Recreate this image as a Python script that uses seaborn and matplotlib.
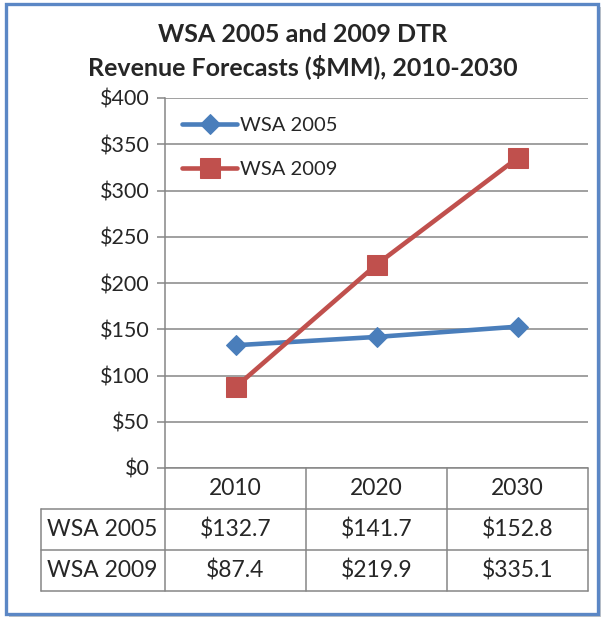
"""
WSA 2005 vs 2009 DTR revenue forecasts, Excel-style line chart with data table.
"""

import pandas as pd
import matplotlib.pyplot as plt
import matplotlib.patches as patches
import seaborn as sns

# data
years = ['2010', '2020', '2030']
wsa_2005 = [132.7, 141.7, 152.8]
wsa_2009 = [87.4, 219.9, 335.1]
series_names = ['WSA 2005', 'WSA 2009']
y_ticks = [0, 50, 100, 150, 200, 250, 300, 350, 400]

df = pd.DataFrame({
    'pos': list(range(len(years))) * 2,
    'year': years * 2,
    'value': wsa_2005 + wsa_2009,
    'series': [series_names[0]] * 3 + [series_names[1]] * 3,
})

sns.set_style('white')
plt.rcParams['font.family'] = ['Lato', 'DejaVu Sans']

W, H = 605, 618
fig = plt.figure(figsize=(W / 100, H / 100), dpi=100)

# chart border with shadow
fig.patches.append(patches.Rectangle((9 / W, 1 / H), 592 / W, 610 / H,
                                     transform=fig.transFigure, facecolor='#c8c8c8',
                                     edgecolor='none', zorder=-2))
fig.patches.append(patches.Rectangle((6 / W, 4 / H), 592 / W, 610 / H,
                                     transform=fig.transFigure, facecolor='white',
                                     edgecolor='#5b87c5', linewidth=2.4, zorder=-1))

# plot area in pixels: x 165..588, y 98..468
PX0, PX1, PY0, PY1 = 165, 588, 98, 468
ax = fig.add_axes([PX0 / W, (H - PY1) / H, (PX1 - PX0) / W, (PY1 - PY0) / H])
ax.set_facecolor('none')

colors = {'WSA 2005': '#4a7ebb', 'WSA 2009': '#c0504d'}
markers = {'WSA 2005': 'D', 'WSA 2009': 's'}
sizes = {'WSA 2005': 10, 'WSA 2009': 14}
for name in series_names:
    sub = df[df['series'] == name]
    sns.lineplot(data=sub, x='pos', y='value', ax=ax, color=colors[name],
                 marker=markers[name], markersize=sizes[name],
                 markeredgecolor=colors[name], linewidth=3.3, label=name,
                 zorder=3)

ax.set_xlim(-0.5, len(years) - 0.5)
ax.set_ylim(0, 400)
ax.set_yticks(y_ticks)
ax.set_yticklabels([f'${v}' for v in y_ticks], fontsize=15.5)
ax.set_xticks([])
ax.set_xlabel('')
ax.set_ylabel('')
ax.grid(axis='y', color='#868686', linewidth=1.1)
ax.set_axisbelow(True)
for side in ['top', 'right', 'bottom']:
    ax.spines[side].set_visible(False)
ax.spines['left'].set_color('#868686')
ax.spines['left'].set_linewidth(1.1)
ax.tick_params(axis='y', length=6, width=1.1, color='#868686', pad=5, left=True)

ax.legend(loc='upper left', bbox_to_anchor=(0.04, 0.948), frameon=False,
          fontsize=14.5, handlelength=2.75, handletextpad=0.15, labelspacing=1.3,
          borderpad=0, borderaxespad=0)


# data table below the plot, drawn in pixel positions mapped to axes coords
def ax_x(px):
    return (px - PX0) / (PX1 - PX0)


def ax_y(py):
    return (PY1 - py) / (PY1 - PY0)


col_edges = [165, 306, 447, 588]
row_edges = [468, 509, 550, 591]
label_left = 41
grid_kw = dict(color='#868686', linewidth=1.1, transform=ax.transAxes,
               clip_on=False, zorder=2)

# horizontal lines
ax.plot([ax_x(col_edges[0]), ax_x(col_edges[-1])], [ax_y(row_edges[0])] * 2, **grid_kw)
for py in row_edges[1:]:
    ax.plot([ax_x(label_left), ax_x(col_edges[-1])], [ax_y(py)] * 2, **grid_kw)
# vertical lines
for px in col_edges:
    ax.plot([ax_x(px)] * 2, [ax_y(row_edges[0]), ax_y(row_edges[-1])], **grid_kw)
ax.plot([ax_x(label_left)] * 2, [ax_y(row_edges[1]), ax_y(row_edges[-1])], **grid_kw)

text_kw = dict(transform=ax.transAxes, fontsize=16.5, va='center', clip_on=False)
for i, yr in enumerate(years):
    cx = (col_edges[i] + col_edges[i + 1]) / 2
    ax.text(ax_x(cx), ax_y((row_edges[0] + row_edges[1]) / 2), yr, ha='center', **text_kw)

for r, (name, vals) in enumerate(zip(series_names, [wsa_2005, wsa_2009])):
    cy = (row_edges[r + 1] + row_edges[r + 2]) / 2
    ax.text(ax_x(label_left + 6), ax_y(cy), name, ha='left', **text_kw)
    for i, v in enumerate(vals):
        cx = (col_edges[i] + col_edges[i + 1]) / 2
        ax.text(ax_x(cx), ax_y(cy), f'${v:.1f}', ha='center', **text_kw)

fig.text(0.5, (H - 34) / H, 'WSA 2005 and 2009 DTR', ha='center', va='center',
         fontsize=18, fontweight='bold')
fig.text(0.5, (H - 67) / H, 'Revenue Forecasts ($MM), 2010-2030', ha='center',
         va='center', fontsize=18, fontweight='bold')

fig.savefig('out.png', dpi=100)
